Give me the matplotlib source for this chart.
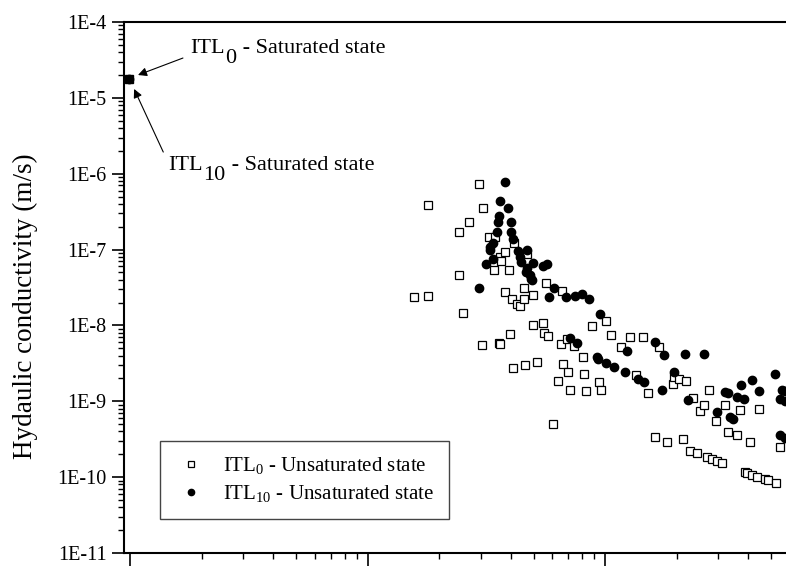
import numpy as np
import matplotlib.pyplot as plt
import matplotlib.transforms as mtransforms
from matplotlib.ticker import FixedLocator, FuncFormatter, LogLocator, NullFormatter

plt.rcParams['font.family'] = ['Liberation Serif', 'DejaVu Serif']
plt.rcParams['mathtext.fontset'] = 'custom'
plt.rcParams['mathtext.rm'] = 'Liberation Serif'
plt.rcParams['mathtext.default'] = 'rm'

# saturated state (both samples sit on the same point)
sat_x = [0.99]
sat_k = [1.77e-5]

# ITL0 - unsaturated state
itl0_x = [15.74, 18.03, 18.03, 24.21, 24.35, 25.25, 26.75, 29.56, 30.55, 30.34,
          32.53, 34.51, 34.0, 35.68, 36.25, 36.25, 36.6, 38.04, 38.0, 39.55,
          39.93, 40.59, 41.1, 41.47, 42.52, 44.0, 45.69, 45.69, 45.91, 46.85,
          49.9, 49.9, 51.83, 54.56, 55.3, 56.55, 57.54, 60.52, 63.1, 65.4,
          65.9, 66.74, 69.05, 70.0, 71.44, 74.05, 81.0, 81.34, 82.93, 88.16,
          94.34, 96.47, 100.5, 106.3, 117.0, 127.7, 135.3, 144.8, 151.0, 162.8,
          169.3, 181.5, 192.8, 195.8, 205.5, 212.4, 219.8, 228.0, 235.4, 244.0,
          251.7, 259.8, 268.0, 274.6, 281.4, 293.4, 296.2, 311.8, 320.1, 328.6,
          358.7, 368.3, 387.4, 396.2, 408.7, 414.7, 436.5, 446.3, 473.2, 487.2,
          523.2, 546.6]
itl0_k = [2.37e-8, 2.44e-8, 3.87e-7, 1.72e-7, 4.58e-8, 1.47e-8, 2.28e-7, 7.43e-7, 3.56e-7, 5.57e-9,
          1.45e-7, 1.45e-7, 5.35e-8, 5.87e-9, 5.69e-9, 8.04e-8, 6.97e-8, 9.38e-8, 2.74e-8, 5.35e-8,
          7.71e-9, 2.23e-8, 2.75e-9, 1.23e-7, 1.92e-8, 1.80e-8, 3.12e-8, 2.23e-8, 2.98e-9, 8.67e-8,
          2.51e-8, 1.00e-8, 3.27e-9, 1.08e-8, 7.91e-9, 3.59e-8, 7.21e-9, 5.09e-10, 1.85e-9, 5.69e-9,
          2.83e-8, 3.10e-9, 6.62e-9, 2.41e-9, 1.43e-9, 5.41e-9, 3.86e-9, 2.26e-9, 1.35e-9, 9.93e-9,
          1.78e-9, 1.41e-9, 1.14e-8, 7.48e-9, 5.25e-9, 7.00e-9, 2.24e-9, 7.00e-9, 1.27e-9, 3.40e-10,
          5.17e-9, 2.95e-10, 1.69e-9, 2.09e-9, 1.98e-9, 3.16e-10, 1.84e-9, 2.23e-10, 1.10e-9, 2.07e-10,
          7.41e-10, 8.86e-10, 1.86e-10, 1.40e-9, 1.73e-10, 5.53e-10, 1.63e-10, 1.54e-10, 9.02e-10, 3.94e-10,
          3.57e-10, 7.73e-10, 1.18e-10, 1.15e-10, 2.90e-10, 1.07e-10, 1.01e-10, 7.85e-10, 9.37e-11, 9.10e-11,
          8.38e-11, 2.50e-10]

# ITL10 - unsaturated state
itl10_x = [29.56, 31.64, 32.8, 32.8, 33.68, 33.68, 34.93, 35.44, 35.79, 36.21,
           37.93, 39.05, 40.08, 40.08, 41.11, 42.94, 43.74, 44.38, 46.4, 46.8,
           47.08, 48.24, 48.71, 49.37, 49.51, 54.56, 56.71, 58.1, 60.76, 68.2,
           74.76, 80.25, 85.39, 95.26, 71.38, 76.45, 92.81, 93.18, 101.0, 108.6,
           121.0, 123.4, 137.7, 146.4, 162.8, 172.9, 177.5, 195.6, 216.8, 222.6,
           260.3, 297.0, 320.7, 328.0, 334.4, 345.0, 360.6, 372.0, 383.0, 417.1,
           446.3, 518.2, 544.5, 553.6, 572.7, 572.7, 544.5, 574.4]
itl10_k = [3.12e-8, 6.52e-8, 1.09e-7, 9.77e-8, 1.23e-7, 7.59e-8, 1.72e-7, 2.29e-7, 2.75e-7, 4.41e-7,
           7.85e-7, 3.53e-7, 2.29e-7, 1.72e-7, 1.37e-7, 9.57e-8, 8.05e-8, 6.92e-8, 5.11e-8, 5.66e-8,
           9.77e-8, 4.62e-8, 4.06e-8, 3.97e-8, 6.59e-8, 6.04e-8, 6.46e-8, 2.39e-8, 3.10e-8, 2.35e-8,
           2.46e-8, 2.57e-8, 2.20e-8, 1.43e-8, 6.93e-9, 5.83e-9, 3.80e-9, 3.58e-9, 3.24e-9, 2.85e-9,
           2.41e-9, 4.63e-9, 1.95e-9, 1.77e-9, 6.08e-9, 1.41e-9, 4.06e-9, 2.42e-9, 4.20e-9, 1.03e-9,
           4.14e-9, 7.18e-10, 1.31e-9, 1.27e-9, 6.25e-10, 5.93e-10, 1.13e-9, 1.63e-9, 1.06e-9, 1.91e-9,
           1.35e-9, 2.28e-9, 1.07e-9, 1.41e-9, 1.36e-9, 1.00e-9, 3.60e-10, 3.30e-10]

fig = plt.figure(figsize=(7.86, 5.71), dpi=100)
# axes run past the right edge of the picture, as in the reference
ax = fig.add_axes([124 / 786, 18 / 571, 676 / 786, 531 / 571])
ax.set_xscale('log')
ax.set_yscale('log')
ax.set_xlim(0.943, 662)
ax.set_ylim(1e-11, 1e-4)

ax.plot(itl0_x, itl0_k, ls='none', marker='s', ms=5.2, mfc='white', mec='black', mew=0.9,
        label=r'ITL$_{0}$ - Unsaturated state')
ax.plot(itl10_x, itl10_k, ls='none', marker='o', ms=6, mfc='black', mec='black',
        label=r'ITL$_{10}$ - Unsaturated state')
ax.plot(sat_x, sat_k, ls='none', marker='o', ms=6, color='black')
ax.plot(sat_x, sat_k, ls='none', marker='s', ms=6, color='black')

# arrows to the saturated point
arrow = dict(arrowstyle='-|>', color='black', lw=0.8, mutation_scale=13, shrinkA=0, shrinkB=0)
ax.annotate('', xy=(1.08, 2.0e-5), xytext=(1.67, 3.35e-5), arrowprops=arrow)
ax.annotate('', xy=(1.04, 1.31e-5), xytext=(1.38, 1.93e-6), arrowprops=arrow)


def sub_label(x_px, y_px, sub, rest, size=16, drop=10):
    # "ITL" + lowered full-size subscript + rest, placed in figure pixels
    r = fig.canvas.get_renderer()
    base = fig.transFigure
    pos = (x_px / 786, 1 - y_px / 571)
    t = fig.text(*pos, 'ITL', fontsize=size, va='baseline')
    w = t.get_window_extent(r).width
    t2 = fig.text(*pos, sub, fontsize=size, va='baseline',
                  transform=mtransforms.offset_copy(base, x=w + 1, y=-drop, units='dots'))
    w2 = t2.get_window_extent(r).width
    fig.text(*pos, rest, fontsize=size, va='baseline',
             transform=mtransforms.offset_copy(base, x=w + w2 + 1, y=0, units='dots'))


sub_label(190, 53, '0', ' - Saturated state')
sub_label(168, 170, '10', ' - Saturated state')

ax.set_ylabel('Hydaulic conductivity (m/s)', fontsize=19.5)
ax.yaxis.set_label_coords(-0.127, 0.465)

ax.yaxis.set_major_locator(FixedLocator([10.0 ** p for p in range(-11, -3)]))
ax.yaxis.set_major_formatter(FuncFormatter(lambda v, pos: '1E%d' % round(np.log10(v))))
ax.yaxis.set_minor_locator(LogLocator(base=10, subs=np.arange(2, 10), numticks=20))
ax.yaxis.set_minor_formatter(NullFormatter())
ax.xaxis.set_major_locator(FixedLocator([1, 10, 100]))
ax.xaxis.set_minor_locator(LogLocator(base=10, subs=np.arange(2, 10), numticks=20))
ax.xaxis.set_major_formatter(NullFormatter())
ax.xaxis.set_minor_formatter(NullFormatter())

ax.tick_params(which='major', direction='out', length=9, width=1.2, labelsize=14.5)
ax.tick_params(which='minor', direction='out', length=4.5, width=1.0)
for side in ['left', 'bottom', 'top', 'right']:
    ax.spines[side].set_linewidth(1.5)

leg = ax.legend(loc='lower left', bbox_to_anchor=(0.053, 0.064), borderaxespad=0,
                fontsize=15, fancybox=False, edgecolor='#444444', framealpha=1,
                markerscale=0.75, handlelength=1.6, handletextpad=0.75,
                borderpad=0.7, labelspacing=0.35)
leg.get_frame().set_linewidth(1.0)

fig.savefig('out.png', dpi=100)
